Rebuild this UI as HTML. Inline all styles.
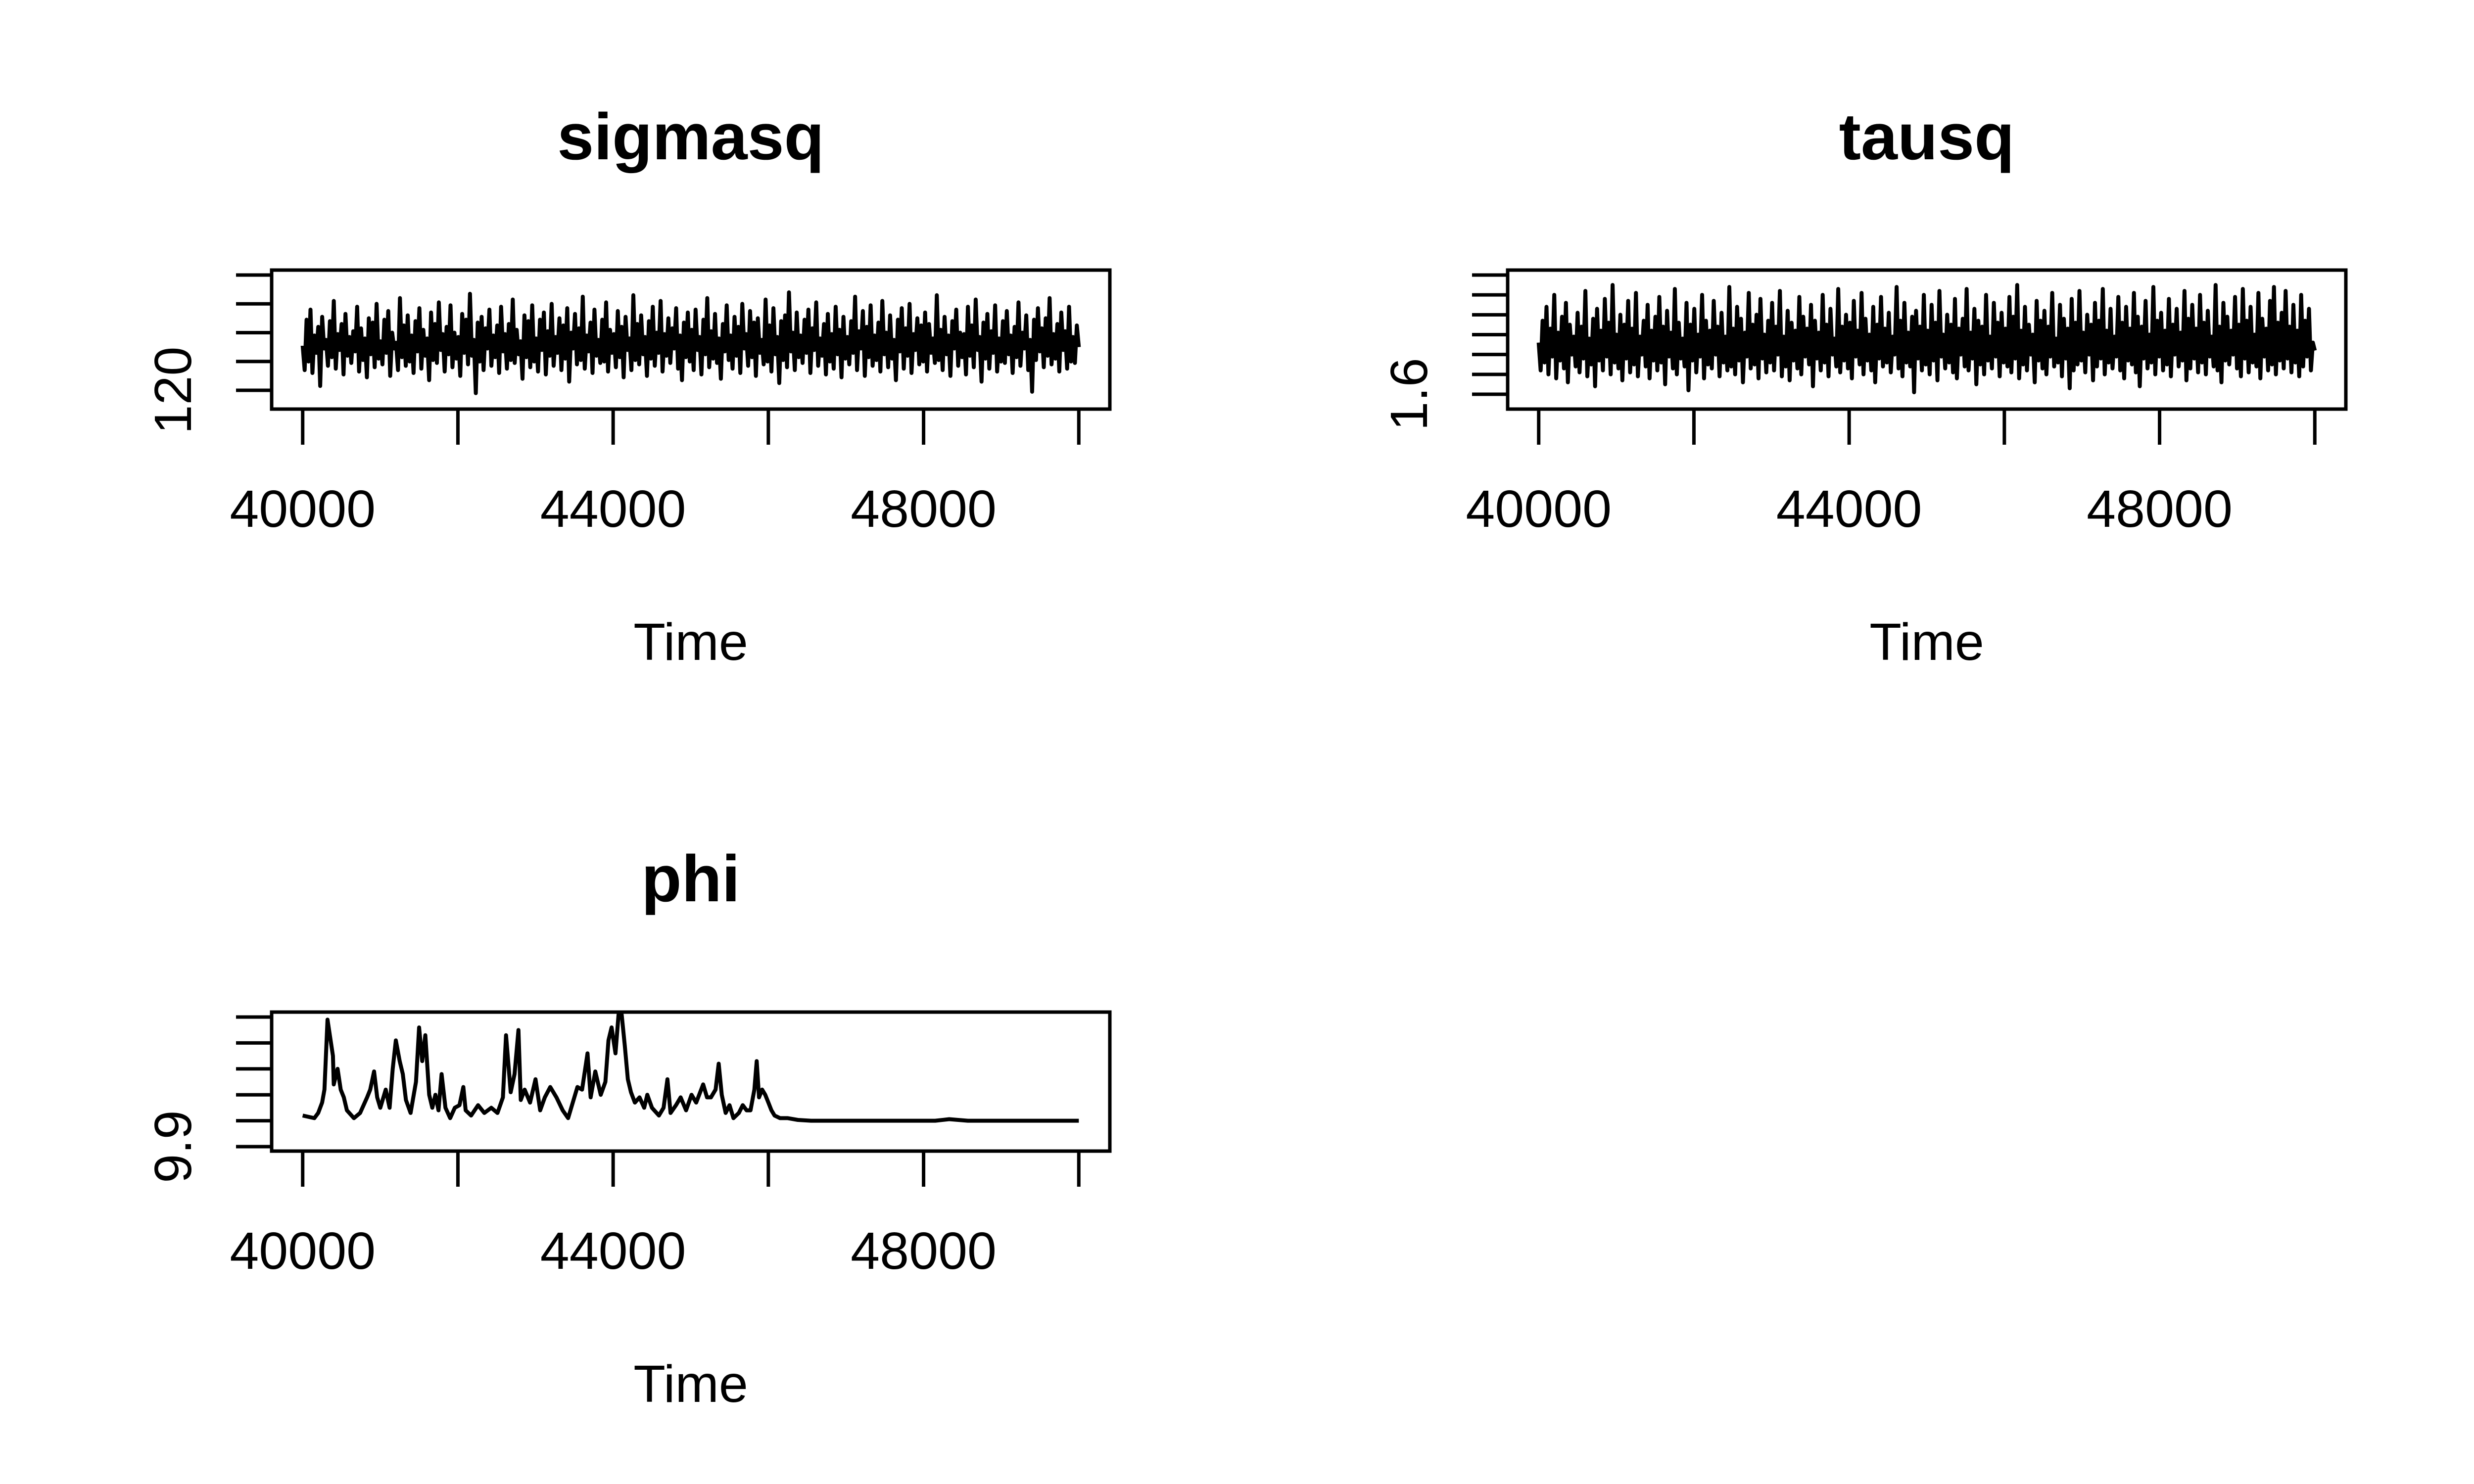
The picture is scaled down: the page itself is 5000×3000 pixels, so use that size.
<!DOCTYPE html>
<html><head><meta charset="utf-8"><style>
html,body{margin:0;padding:0;background:#fff;}
svg{display:block;}
text{font-family:"Liberation Sans",Arial,sans-serif;fill:#000;}
</style></head><body>
<svg id="chart" xmlns="http://www.w3.org/2000/svg" width="5000" height="3000" viewBox="0 0 5000 3000"></svg>
<script>
const xTicks = [40000, 42000, 44000, 46000, 48000, 50000];
const xTickLabels = ["40000", "", "44000", "", "48000", ""];

const sigmasqTicks = [120, 122, 124, 126, 128];
const sigmasqTickLabels = ["120", "", "", "", ""];
const sigmasqValues = [
123.1,121.4,124.9,122.0,125.6,121.2,123.8,122.6,124.4,120.3,125.1,122.9,123.5,121.7,124.8,122.3,126.2,121.5,123.9,122.8,
124.6,121.1,125.3,122.4,123.7,121.9,124.1,122.7,125.8,121.3,124.3,122.1,123.6,120.9,125.0,122.5,124.7,121.6,126.0,122.2,
123.4,121.8,124.9,122.6,125.5,121.0,124.0,122.9,123.3,121.4,126.4,122.3,124.5,121.7,125.2,122.0,123.8,121.2,124.8,122.7,
125.7,121.5,124.2,122.4,123.6,120.7,125.4,122.1,124.6,121.9,126.1,122.8,123.9,121.3,124.4,122.5,125.9,121.6,124.0,122.2,
123.7,121.0,125.3,122.6,124.9,121.8,126.7,122.4,123.5,119.8,124.7,122.0,125.1,121.4,124.3,122.9,125.6,121.7,123.8,122.3,
124.5,121.2,125.8,122.7,123.9,121.5,124.6,122.1,126.3,121.9,124.2,122.5,123.4,120.8,125.2,122.3,124.8,121.6,125.9,122.0,
123.6,121.3,124.9,122.8,125.4,121.1,124.1,122.4,126.0,121.7,123.7,122.6,125.0,121.4,124.5,122.2,125.7,120.6,124.0,122.9,
125.3,121.8,124.3,122.1,126.5,121.5,123.8,122.7,124.7,121.2,125.6,122.4,123.5,121.9,124.9,122.0,126.1,121.3,124.2,122.6,
123.9,121.6,125.5,122.3,124.4,120.9,125.1,122.8,123.6,121.4,126.6,122.1,124.6,121.8,125.2,122.5,123.7,121.0,124.8,122.2,
125.8,121.7,124.0,122.6,126.2,121.3,123.9,122.4,125.0,121.9,124.3,122.9,125.7,121.5,123.8,120.7,124.7,122.3,125.4,122.0,
124.2,121.4,125.6,122.8,123.7,121.1,124.9,122.5,126.4,121.6,124.1,122.2,125.3,121.9,123.6,120.8,124.6,122.7,125.9,122.1,
123.8,121.5,125.1,122.4,124.4,121.2,126.0,122.9,123.9,121.7,125.5,122.3,124.7,121.0,125.0,122.6,123.5,121.8,126.3,122.0,
124.5,121.3,125.7,122.5,123.7,120.5,124.8,122.1,125.2,121.6,126.8,122.7,124.0,121.4,125.4,122.3,123.8,121.9,124.9,122.6,
125.6,121.2,124.3,122.8,126.1,121.7,123.6,122.4,124.6,121.1,125.3,122.0,123.9,121.5,125.8,122.5,124.2,120.9,125.1,122.2,
123.7,121.8,124.8,122.6,126.5,121.4,124.1,122.9,125.5,121.0,124.4,122.3,125.9,121.7,123.8,122.1,124.7,121.3,126.2,122.5,
124.0,121.6,125.2,122.2,123.5,120.7,124.9,122.7,125.7,121.5,124.3,122.4,126.0,121.2,123.9,122.8,125.0,121.8,124.5,122.0,
125.4,121.3,124.6,122.6,123.6,121.9,126.6,122.1,124.2,121.4,125.1,122.5,123.8,121.0,124.8,122.9,125.6,121.7,124.0,122.3,
123.9,121.1,125.8,122.4,124.5,121.6,126.3,122.8,123.7,120.6,124.7,122.2,125.3,121.5,124.1,122.6,125.9,121.3,123.6,122.0,
124.8,121.9,125.5,122.5,123.8,121.2,124.4,122.3,126.1,121.7,124.0,122.9,125.2,121.4,123.5,119.9,124.9,122.1,125.7,122.7,
124.3,121.6,125.0,122.4,126.4,121.8,123.9,122.2,124.6,121.3,125.4,122.8,124.1,121.5,125.8,122.0,123.7,121.9,124.5,123.0];

const tausqTicks = [1.6, 1.7, 1.8, 1.9, 2.0, 2.1, 2.2];
const tausqTickLabels = ["1.6", "", "", "", "", "", ""];
const tausqValues = [
1.86,1.72,1.97,1.76,2.04,1.70,1.93,1.79,2.10,1.68,1.91,1.77,1.99,1.73,2.06,1.66,1.95,1.80,1.89,1.74,
2.01,1.71,1.94,1.78,2.12,1.69,1.88,1.75,1.98,1.64,2.03,1.77,1.92,1.72,2.08,1.79,1.96,1.70,2.15,1.76,
1.90,1.73,2.00,1.67,1.95,1.78,2.07,1.71,1.93,1.75,2.11,1.69,1.89,1.80,1.97,1.74,2.05,1.68,1.92,1.77,
1.99,1.72,2.09,1.76,1.94,1.65,2.02,1.79,1.91,1.73,2.13,1.70,1.96,1.78,1.88,1.74,2.06,1.62,1.95,1.77,
2.03,1.71,1.90,1.79,2.10,1.68,1.97,1.75,1.92,1.73,2.07,1.80,1.94,1.69,2.01,1.76,1.89,1.72,2.14,1.74,
1.93,1.70,2.04,1.77,1.98,1.66,1.91,1.79,2.11,1.73,1.95,1.75,2.00,1.68,2.08,1.78,1.90,1.71,1.97,1.76,
2.06,1.72,1.94,1.80,2.12,1.69,1.89,1.74,2.02,1.67,1.96,1.77,1.92,1.73,2.09,1.70,1.99,1.79,1.93,1.75,
2.05,1.64,1.97,1.78,1.91,1.72,2.10,1.76,1.95,1.69,2.03,1.80,1.88,1.74,2.13,1.71,1.94,1.77,2.00,1.73,
1.96,1.68,2.07,1.79,1.92,1.75,2.11,1.70,1.98,1.77,1.90,1.72,2.04,1.66,1.95,1.78,2.09,1.74,1.93,1.76,
2.01,1.71,1.89,1.80,2.14,1.73,1.97,1.69,2.06,1.76,1.91,1.74,1.99,1.61,2.02,1.78,1.94,1.72,2.10,1.75,
1.92,1.70,2.05,1.77,1.96,1.67,2.12,1.79,1.90,1.73,2.00,1.76,1.95,1.71,2.08,1.68,1.93,1.80,1.98,1.74,
2.13,1.72,1.91,1.78,2.03,1.65,1.97,1.75,1.94,1.70,2.10,1.77,1.89,1.73,2.06,1.79,1.96,1.69,2.01,1.76,
1.93,1.74,2.09,1.71,1.99,1.78,2.15,1.68,1.92,1.75,2.04,1.72,1.95,1.80,1.90,1.66,2.07,1.77,1.97,1.73,
2.02,1.70,1.94,1.79,2.11,1.74,1.88,1.76,2.05,1.69,1.98,1.78,1.93,1.63,2.08,1.72,1.96,1.75,2.12,1.77,
1.91,1.71,2.00,1.80,1.95,1.67,2.06,1.74,1.97,1.78,2.13,1.70,1.92,1.76,2.03,1.73,1.89,1.79,2.09,1.72,
1.96,1.68,2.04,1.77,1.93,1.75,2.11,1.71,1.99,1.64,1.94,1.78,2.07,1.73,1.90,1.76,2.14,1.70,1.97,1.79,
2.01,1.72,1.92,1.75,2.08,1.69,1.95,1.80,2.03,1.74,1.91,1.77,2.12,1.67,1.98,1.73,2.05,1.78,1.93,1.71,
2.10,1.76,1.96,1.70,2.02,1.79,1.89,1.74,2.15,1.72,1.94,1.66,2.06,1.77,1.99,1.75,1.92,1.80,2.09,1.73,
1.95,1.69,2.13,1.78,1.97,1.71,2.04,1.76,1.90,1.74,2.11,1.68,1.98,1.79,1.93,1.72,2.07,1.75,2.14,1.70,
1.96,1.77,2.01,1.73,2.12,1.78,1.94,1.71,2.05,1.76,1.92,1.69,2.10,1.74,1.97,1.79,2.03,1.72,1.86,1.82];

const phiTicks = [9.9, 10.0, 10.1, 10.2, 10.3, 10.4];
const phiTickLabels = ["9.9", "", "", "", "", ""];
const phiIter = [40000,40150,40200,40250,40280,40320,40360,40390,40400,40450,40490,40530,40570,40660,40740,40830,40870,40920,40960,41000,41070,41120,41160,41200,41250,41290,41330,41390,41460,41500,41540,41580,41630,41670,41710,41750,41790,41840,41900,41960,42020,42070,42100,42170,42260,42340,42430,42510,42580,42620,42680,42730,42780,42810,42860,42930,43000,43060,43120,43190,43270,43350,43420,43480,43540,43600,43670,43710,43770,43840,43900,43940,43980,44030,44070,44110,44150,44190,44230,44280,44340,44400,44440,44500,44590,44650,44700,44740,44810,44870,44940,45010,45070,45160,45210,45260,45320,45360,45400,45450,45500,45550,45620,45670,45720,45770,45820,45850,45880,45920,45960,46000,46040,46080,46150,46250,46380,46550,48150,48330,48570,50000];
const phiValues = [10.02,10.01,10.03,10.07,10.12,10.39,10.31,10.25,10.14,10.20,10.12,10.09,10.04,10.01,10.03,10.09,10.12,10.19,10.09,10.05,10.12,10.05,10.20,10.31,10.23,10.18,10.08,10.03,10.15,10.36,10.23,10.33,10.10,10.05,10.10,10.04,10.18,10.05,10.01,10.05,10.06,10.13,10.04,10.02,10.06,10.03,10.05,10.03,10.09,10.33,10.11,10.18,10.35,10.08,10.12,10.07,10.16,10.04,10.09,10.13,10.09,10.04,10.01,10.07,10.13,10.12,10.26,10.09,10.19,10.10,10.15,10.31,10.36,10.26,10.41,10.41,10.29,10.16,10.11,10.07,10.09,10.05,10.10,10.05,10.02,10.05,10.16,10.03,10.06,10.09,10.04,10.10,10.07,10.14,10.09,10.09,10.12,10.22,10.10,10.03,10.06,10.01,10.03,10.06,10.04,10.04,10.12,10.23,10.09,10.12,10.10,10.07,10.04,10.02,10.01,10.01,10.003,10.0,10.0,10.006,10.0,10.0];

const NS = "http://www.w3.org/2000/svg";
const svg = document.getElementById("chart");
function mk(tag, attrs, parent) {
  const e = document.createElementNS(NS, tag);
  for (const k in attrs) e.setAttribute(k, attrs[k]);
  (parent || svg).appendChild(e);
  return e;
}

function panel(cfg) {
  const g = mk("g", {});
  
  
  const L = cfg.left, R = cfg.left + 1694, T = cfg.top, B = cfg.top + 281;
  const xMin = 39600, xMax = 50400;
  const xs = v => L + (v - xMin) / (xMax - xMin) * (R - L);
  const ys = v => cfg.y0px - (v - cfg.y0) * cfg.ppu;
  const cx = (L + R) / 2;

  const title = mk("text", {x: cx, y: T - 224, "text-anchor": "middle", "font-size": 133, "font-weight": "bold"}, g);
  title.textContent = cfg.name;
  
  

  let d = "";
  cfg.xv.forEach((xv, i) => { d += (i ? "L" : "M") + xs(xv).toFixed(1) + "," + ys(cfg.yv[i]).toFixed(1); });
  const line = mk("path", {d: d, fill: "none", stroke: "#000", "stroke-width": cfg.sw, "stroke-linejoin": "round"}, g);
  
  

  const box = mk("rect", {x: L, y: T, width: R - L, height: B - T, fill: "none", stroke: "#000", "stroke-width": 7}, g);
  
  

  xTicks.forEach((t, i) => {
    const x = xs(t);
    const tk = mk("line", {x1: x, x2: x, y1: B, y2: B + 72, stroke: "#000", "stroke-width": 7}, g);
    
    
    if (xTickLabels[i]) {
      const lb = mk("text", {x: x, y: B + 238, "text-anchor": "middle", "font-size": 106}, g);
      lb.textContent = xTickLabels[i];
      
      
    }
  });
  cfg.ticks.forEach((t, i) => {
    const y = ys(t);
    const tk = mk("line", {x1: L, x2: L - 72, y1: y, y2: y, stroke: "#000", "stroke-width": 7}, g);
    
    
    if (cfg.labels[i]) {
      const lx = L - 163;
      const lb = mk("text", {x: lx, y: y, "text-anchor": "middle", "font-size": 106, transform: `rotate(-90 ${lx} ${y})`}, g);
      lb.textContent = cfg.labels[i];
      
      
    }
  });
  const xt = mk("text", {x: cx, y: B + 507, "text-anchor": "middle", "font-size": 106}, g);
  xt.textContent = "Time";
  
  
}

function idx(n) { const a = []; for (let i = 0; i < n; i++) a.push(40000 + i * 10000 / (n - 1)); return a; }

panel({name: "sigmasq", left: 549, top: 546, y0: 120, y0px: 789, ppu: 29.125, sw: 8,
  ticks: sigmasqTicks, labels: sigmasqTickLabels, xv: idx(sigmasqValues.length), yv: sigmasqValues});
panel({name: "tausq", left: 3047, top: 546, y0: 1.6, y0px: 797, ppu: 401.7, sw: 8,
  ticks: tausqTicks, labels: tausqTickLabels, xv: idx(tausqValues.length), yv: tausqValues});
panel({name: "phi", left: 549, top: 2046, y0: 9.9, y0px: 2318, ppu: 524, sw: 8,
  ticks: phiTicks, labels: phiTickLabels, xv: phiIter, yv: phiValues});
</script>
</body></html>
